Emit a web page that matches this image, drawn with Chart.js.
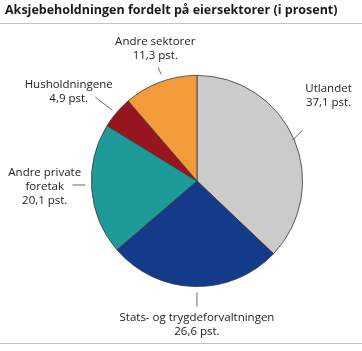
<!DOCTYPE html>
<html>
<head>
<meta charset="utf-8">
<script src="https://cdn.jsdelivr.net/npm/chart.js@4.4.1/dist/chart.umd.min.js"></script>
<style>
  html, body { margin: 0; padding: 0; background: #fff; overflow: hidden; }
  canvas { display: block; }
</style>
</head>
<body>
<canvas id="kake" width="362" height="351"></canvas>
<script>
// Data (andel i prosent)
const tittel = 'Aksjebeholdningen fordelt på eiersektorer (i prosent)';
const sektorer = ['Utlandet', 'Stats- og trygdeforvaltningen', 'Andre private foretak', 'Husholdningene', 'Andre sektorer'];
const etikettLinjer = [['Utlandet'], ['Stats- og trygdeforvaltningen'], ['Andre private', 'foretak'], ['Husholdningene'], ['Andre sektorer']];
const andeler = [37.1, 26.6, 20.1, 4.9, 11.3];
const farger = ['#cbcbcb', '#143b8a', '#1e9b98', '#98151f', '#f39a3a'];

// plassering av etiketter relativt til midtpunktet paa buen
const plassering = [
  { fra: [-1.5, 0.8], til: [8.5, -9.2], tekst: [34.5, -51] },
  { fra: [2.6, 6], til: [2.6, 20], tekst: [2.6, 31] },
  { fra: [-6.3, -4.3], til: [-19.3, -4.3], tekst: [-47, -17] },
  { fra: [-4.4, -2.2], til: [-21.4, -15.2], tekst: [-48, -28] },
  { fra: [0.8, -7.6], til: [-2.2, -14.6], tekst: [-5, -40.6] }
];

const fontNavn = '"Open Sans", "DejaVu Sans", sans-serif';

function formaterTall(v) {
  return v.toFixed(1).replace('.', ',') + ' pst.';
}

const rammeOgTekst = {
  id: 'rammeOgTekst',
  afterDraw(chart) {
    const ctx = chart.ctx;
    ctx.save();
    // tittel
    ctx.fillStyle = '#1a1a1a';
    ctx.font = 'bold 12.5px ' + fontNavn;
    ctx.textAlign = 'left';
    ctx.textBaseline = 'middle';
    ctx.fillText(tittel, 5, 10);
    // linjer topp og bunn
    ctx.strokeStyle = '#c4c4c4';
    ctx.lineWidth = 1;
    ctx.beginPath();
    ctx.moveTo(0, 23.5); ctx.lineTo(chart.width, 23.5);
    ctx.moveTo(0, 343.5); ctx.lineTo(chart.width, 343.5);
    ctx.stroke();

    // etiketter
    const buer = chart.getDatasetMeta(0).data;
    ctx.font = '11.5px ' + fontNavn;
    ctx.textAlign = 'center';
    buer.forEach((bue, i) => {
      const midt = (bue.startAngle + bue.endAngle) / 2;
      const px = bue.x + Math.cos(midt) * bue.outerRadius;
      const py = bue.y + Math.sin(midt) * bue.outerRadius;
      const p = plassering[i];
      ctx.strokeStyle = '#444';
      ctx.lineWidth = 0.8;
      ctx.beginPath();
      ctx.moveTo(px + p.fra[0], py + p.fra[1]);
      ctx.lineTo(px + p.til[0], py + p.til[1]);
      ctx.stroke();
      const linjer = etikettLinjer[i].concat([formaterTall(andeler[i])]);
      ctx.fillStyle = '#222';
      linjer.forEach((t, j) => {
        ctx.fillText(t, px + p.tekst[0], py + p.tekst[1] + j * 14);
      });
    });
    ctx.restore();
  }
};

new Chart(document.getElementById('kake'), {
  type: 'pie',
  data: {
    labels: sektorer,
    datasets: [{
      data: andeler,
      backgroundColor: farger,
      borderColor: '#3a3a3a',
      borderWidth: 0.8
    }]
  },
  options: {
    responsive: false,
    animation: false,
    devicePixelRatio: 1,
    layout: { padding: { left: 91, top: 75, right: 59, bottom: 64 } },
    plugins: {
      legend: { display: false },
      tooltip: { enabled: false }
    }
  },
  plugins: [rammeOgTekst]
});
</script>
</body>
</html>
